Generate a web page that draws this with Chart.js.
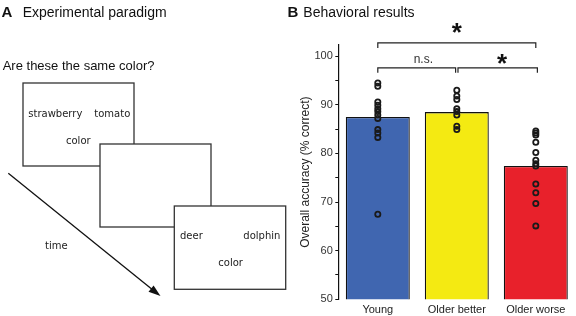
<!DOCTYPE html>
<html>
<head>
<meta charset="utf-8">
<script src="https://cdn.jsdelivr.net/npm/chart.js@4.4.1/dist/chart.umd.min.js"></script>
<style>
  html, body { margin: 0; padding: 0; background: #fff; }
  #wrap { position: relative; width: 576px; height: 316px; overflow: hidden; }
  #c { position: absolute; left: 0; top: 0; }
  #panelA { position: absolute; left: 0; top: 0; pointer-events: none; }
</style>
</head>
<body>
<div id="wrap">
  <canvas id="c" width="576" height="316"></canvas>
  <svg id="panelA" width="576" height="316" xmlns="http://www.w3.org/2000/svg">
    <g font-family="'Liberation Sans', Arial, sans-serif" fill="#111">
      <text x="1.5" y="17.3" font-size="15" font-weight="bold">A</text>
      <text x="22.7" y="17.3" font-size="14">Experimental paradigm</text>
      <text x="287.5" y="17.3" font-size="15" font-weight="bold">B</text>
      <text x="303.3" y="17.3" font-size="14">Behavioral results</text>
      <text x="2.7" y="70" font-size="13">Are these the same color?</text>
    </g>
    <g stroke="#333" stroke-width="1.3" fill="#fff">
      <rect x="23" y="83" width="111" height="83"/>
      <rect x="100" y="144" width="111" height="83"/>
      <rect x="174.3" y="206" width="111.4" height="83.3"/>
    </g>
    <g font-family="'DejaVu Sans', sans-serif" font-size="10" fill="#222">
      <text x="28.3" y="116.5">strawberry</text>
      <text x="94.3" y="116.5">tomato</text>
      <text x="66" y="143.5">color</text>
      <text x="180" y="238.5">deer</text>
      <text x="243.3" y="238.5">dolphin</text>
      <text x="218.3" y="266">color</text>
      <text x="45" y="248.5">time</text>
    </g>
    <line x1="8.3" y1="173.3" x2="156" y2="292.5" stroke="#111" stroke-width="1.3"/>
    <polygon points="160.5,296 148.5,291.8 153.6,285.5" fill="#111"/>
  </svg>
</div>
<script>
// ---- data ----
const categories = ['Young', 'Older better', 'Older worse'];
const meanAccuracy = [87.5, 88.5, 77.4];
const youngScores = [94.5, 93.8, 90.6, 89.9, 89.2, 88.6, 87.9, 87.2, 84.9, 84.2, 83.3, 67.5];
const olderBetterScores = [93.0, 91.8, 91.1, 89.2, 88.6, 87.9, 85.6, 84.9];
const olderWorseScores = [84.6, 84.2, 83.8, 82.3, 80.2, 78.6, 77.9, 77.4, 73.7, 71.9, 69.7, 65.1];
const yTickValues = [50, 55, 60, 65, 70, 75, 80, 85, 90, 95, 100];
const comparisons = [
  { from: 0, to: 2, label: '*' },
  { from: 0, to: 1, label: 'n.s.' },
  { from: 1, to: 2, label: '*' }
];

const groupScores = [youngScores, olderBetterScores, olderWorseScores];
const pointData = [];
groupScores.forEach((arr, i) => arr.forEach(v => pointData.push({ x: categories[i], y: v })));

const FONT = "'Liberation Sans', Arial, sans-serif";

const bracketPlugin = {
  id: 'brackets',
  afterDraw(chart) {
    const ctx = chart.ctx;
    const xs = chart.scales.x, ys = chart.scales.y;
    ctx.save();
    ctx.strokeStyle = '#222';
    ctx.lineWidth = 1.2;
    ctx.fillStyle = '#111';
    const drawBracket = (x0, x1, yv, drop) => {
      const px0 = xs.getPixelForValue(x0), px1 = xs.getPixelForValue(x1);
      const py = ys.getPixelForValue(yv), pd = ys.getPixelForValue(yv - drop);
      ctx.beginPath();
      ctx.moveTo(px0, pd); ctx.lineTo(px0, py); ctx.lineTo(px1, py); ctx.lineTo(px1, pd);
      ctx.stroke();
    };
    drawBracket(comparisons[0].from, comparisons[0].to, 102.73, 1.03);
    drawBracket(comparisons[1].from, comparisons[1].to - 0.015, 97.6, 1.03);
    drawBracket(comparisons[2].from + 0.015, comparisons[2].to + 0.02, 97.6, 1.03);

    const star = (label, xv, yv) => {
      const px = xs.getPixelForValue(xv), py = ys.getPixelForValue(yv);
      ctx.font = 'bold 26px ' + FONT;
      ctx.textAlign = 'center';
      ctx.textBaseline = 'alphabetic';
      ctx.fillText(label, px, py + 0.45 * 26);
    };
    star(comparisons[0].label, 1.0, 105.6);
    star(comparisons[2].label, 1.572, 99.25);
    ctx.font = '12px ' + FONT;
    ctx.textAlign = 'center';
    ctx.textBaseline = 'middle';
    ctx.fillStyle = '#333';
    ctx.fillText(comparisons[1].label, xs.getPixelForValue(0.576), ys.getPixelForValue(99.2));
    ctx.restore();
  }
};

new Chart(document.getElementById('c'), {
  type: 'bar',
  data: {
    labels: categories,
    datasets: [
      {
        type: 'line',
        data: pointData,
        showLine: false,
        pointStyle: 'circle',
        pointRadius: 2.6,
        pointBorderWidth: 1.8,
        pointBorderColor: '#1a1a1a',
        pointBackgroundColor: 'rgba(0,0,0,0)',
        order: 0
      },
      {
        type: 'bar',
        data: meanAccuracy,
        backgroundColor: ['#4066b0', '#f4ea12', '#e8212b'],
        borderColor: '#111',
        borderWidth: 1.3,
        borderSkipped: false,
        categoryPercentage: 1.0,
        barPercentage: 0.81,
        order: 1
      }
    ]
  },
  options: {
    responsive: false,
    animation: false,
    devicePixelRatio: 1,
    layout: { autoPadding: false, padding: { left: 290, top: 45, right: 0.7, bottom: 0 } },
    plugins: { legend: { display: false }, tooltip: { enabled: false } },
    scales: {
      x: {
        type: 'category',
        offset: true,
        grid: { display: false, drawTicks: false },
        border: { display: false },
        ticks: { color: '#222', font: { family: FONT, size: 11 }, padding: 4, maxRotation: 0 },
        afterFit(scale) { scale.height = 16.7; scale.paddingLeft = 0; scale.paddingRight = 0; }
      },
      y: {
        min: 50,
        max: 102.3,
        grid: { drawOnChartArea: false, drawTicks: true, tickLength: 3, color: '#111', lineWidth: 1 },
        border: { display: true, color: '#111', width: 1.2 },
        ticks: {
          color: '#333',
          font: { family: FONT, size: 11 },
          padding: 2.5,
          callback: (v) => (v % 10 === 0 ? String(v) : '')
        },
        afterBuildTicks(scale) { scale.ticks = yTickValues.map(v => ({ value: v })); },
        afterFit(scale) { scale.width = 48.3; scale.paddingTop = 0; scale.paddingBottom = 0; },
        title: {
          display: true,
          text: 'Overall accuracy (% correct)',
          color: '#222',
          font: { family: FONT, size: 12 },
          padding: { top: 8, bottom: 0 }
        }
      }
    }
  },
  plugins: [bracketPlugin]
});
</script>
</body>
</html>
